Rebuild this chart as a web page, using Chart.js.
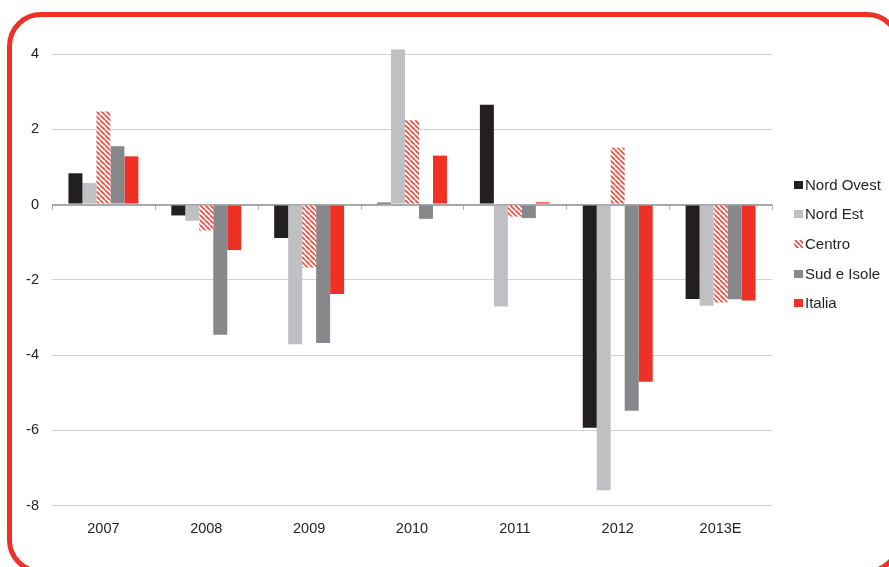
<!DOCTYPE html>
<html>
<head>
<meta charset="utf-8">
<script src="https://cdn.jsdelivr.net/npm/chart.js@4/dist/chart.umd.min.js"></script>
<style>
  html, body { margin: 0; padding: 0; background: #fff; overflow: hidden; }
  #wrap { position: relative; width: 889px; height: 567px; overflow: hidden; }
  #frame {
    position: absolute; left: 7px; top: 12px; width: 894px; height: 562px;
    box-sizing: border-box; border: 5px solid #ee3124; border-radius: 34px;
  }
  #chart { position: absolute; left: 0; top: 0; }
</style>
</head>
<body>
<div id="wrap">
  <div id="frame"></div>
  <canvas id="chart" width="889" height="567"></canvas>
</div>
<script>
// valori (variazione %)
const categories = ['2007', '2008', '2009', '2010', '2011', '2012', '2013E'];
const nordOvest = [0.83, -0.29, -0.89, 0.05, 2.65, -5.93, -2.51];
const nordEst = [0.57, -0.43, -3.71, 4.12, -2.71, -7.59, -2.69];
const centro = [2.47, -0.69, -1.67, 2.24, -0.32, 1.51, -2.60];
const sudIsole = [1.55, -3.46, -3.68, -0.38, -0.36, -5.48, -2.52];
const italia = [1.28, -1.21, -2.38, 1.30, 0.06, -4.71, -2.55];
const yMin = -8, yMax = 4, yStep = 2;

const textColor = '#231f20';
const red = '#ee3124';

// tratteggio per "Centro"
const makeHatch = () => {
  const c = document.createElement('canvas');
  c.width = 5; c.height = 5;
  const g = c.getContext('2d');
  g.fillStyle = '#fff';
  g.fillRect(0, 0, 5, 5);
  g.strokeStyle = '#ef4a3c';
  g.lineWidth = 1.7;
  [-5, 0, 5].forEach(o => {
    g.beginPath();
    g.moveTo(o, 0);
    g.lineTo(o + 5, 5);
    g.stroke();
  });
  return g.createPattern(c, 'repeat');
};
const ctx = document.getElementById('chart').getContext('2d');
const hatch = makeHatch();

// tacche sulla linea dello zero
const zeroTicks = {
  id: 'zeroTicks',
  beforeDatasetsDraw(chart) {
    const { ctx, scales: { x, y } } = chart;
    const y0 = y.getPixelForValue(0);
    const step = (x.right - x.left) / categories.length;
    ctx.save();
    ctx.strokeStyle = '#a7a9ac';
    ctx.lineWidth = 1;
    for (let i = 0; i <= categories.length; i++) {
      const px = Math.round(x.left + i * step) + 0.5;
      ctx.beginPath();
      ctx.moveTo(px, y0);
      ctx.lineTo(px, y0 + 5);
      ctx.stroke();
    }
    ctx.restore();
  }
};

// legenda a destra
const sideLegend = {
  id: 'sideLegend',
  afterDraw(chart) {
    const { ctx } = chart;
    ctx.save();
    ctx.font = '15px "Liberation Sans", Arial, sans-serif';
    ctx.textBaseline = 'middle';
    chart.data.datasets.forEach((ds, i) => {
      const cy = 185.5 + i * 29.7;
      ctx.fillStyle = ds.backgroundColor;
      ctx.fillRect(794, Math.round(cy) - 5, 9, 8);
      ctx.fillStyle = textColor;
      ctx.fillText(ds.label, 805, cy);
    });
    ctx.restore();
  }
};

new Chart(ctx, {
  type: 'bar',
  data: {
    labels: categories,
    datasets: [
      { label: 'Nord Ovest', data: nordOvest, backgroundColor: '#231f20' },
      { label: 'Nord Est', data: nordEst, backgroundColor: '#bfc0c4' },
      { label: 'Centro', data: centro, backgroundColor: hatch },
      { label: 'Sud e Isole', data: sudIsole, backgroundColor: '#87888c' },
      { label: 'Italia', data: italia, backgroundColor: red },
    ],
  },
  options: {
    responsive: false,
    animation: false,
    layout: { padding: { left: 0, right: 117, top: 54, bottom: 14 } },
    datasets: {
      bar: { barPercentage: 1, categoryPercentage: 0.68, clip: false },
    },
    plugins: {
      legend: { display: false },
      tooltip: { enabled: false },
    },
    scales: {
      x: {
        grid: { display: false, drawTicks: false },
        border: { display: false },
        ticks: {
          color: textColor,
          padding: 15,
          font: { family: '"Liberation Sans", Arial, sans-serif', size: 14.5 },
        },
      },
      y: {
        min: yMin,
        max: yMax,
        afterFit: (scale) => { scale.width = 52; },
        grid: {
          drawTicks: false,
          color: (c) => (c.tick && c.tick.value === 0 ? '#a7a9ac' : '#d1d2d4'),
          lineWidth: (c) => (c.tick && c.tick.value === 0 ? 2 : 1),
        },
        border: { display: false },
        ticks: {
          stepSize: yStep,
          color: textColor,
          padding: 13,
          font: { family: '"Liberation Sans", Arial, sans-serif', size: 14.5 },
        },
      },
    },
  },
  plugins: [zeroTicks, sideLegend],
});
</script>
</body>
</html>
